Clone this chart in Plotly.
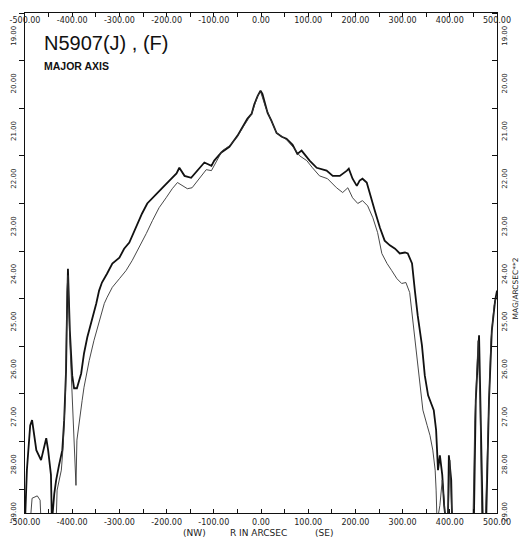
import plotly.graph_objects as go

# Radius along the major axis (arcsec) and surface brightness (mag/arcsec^2)
r_j = [-500, -496, -489, -485, -476, -470, -466, -455, -451, -445, -443, -438, -434, -428, -421, -417,
       -413, -411, -409, -405, -400, -396, -390, -381, -375, -368, -358, -349, -343, -337, -326, -315,
       -300, -290, -279, -264, -252, -241, -230, -220, -209, -194, -179, -173, -162, -148, -135, -120,
       -105, -99, -84, -67, -50, -35, -29, -20, -14, -7, -1, 3, 10, 14, 22, 33, 44, 54, 67, 77, 86, 92,
       103, 118, 124, 139, 152, 167, 182, 186, 194, 203, 209, 215, 224, 230, 241, 252, 262, 273, 284,
       294, 305, 311, 320, 326, 332, 341, 347, 354, 360, 366, 371, 373, 375, 379, 384, 388, 392, 396,
       398, 403, 405, 451, 455, 462, 466, 470, 477, 483, 489, 496, 500]
mag_j = [29.2, 28.1, 27.16, 27.05, 27.68, 27.83, 27.89, 27.43, 27.68, 28.2, 29.2, 28.6, 28.31, 28.0,
         27.68, 27.05, 26.0, 24.75, 23.87, 25.17, 26.11, 26.38, 26.38, 26.07, 25.65, 25.31, 24.96, 24.6,
         24.33, 24.16, 23.97, 23.76, 23.64, 23.45, 23.32, 22.96, 22.71, 22.5, 22.38, 22.27, 22.17, 22.02,
         21.87, 21.75, 21.92, 21.96, 21.81, 21.64, 21.71, 21.6, 21.43, 21.31, 21.08, 20.83, 20.72, 20.62,
         20.41, 20.24, 20.13, 20.2, 20.49, 20.6, 20.76, 21.02, 21.1, 21.14, 21.27, 21.46, 21.39, 21.46,
         21.6, 21.75, 21.77, 21.81, 21.92, 21.92, 21.81, 21.77, 21.98, 22.13, 22.02, 21.98, 22.06, 22.29,
         22.65, 23.01, 23.28, 23.38, 23.45, 23.55, 23.53, 23.55, 23.76, 24.33, 24.85, 25.48, 26.11, 26.53,
         26.67, 26.84, 27.26, 27.79, 28.1, 27.79, 28.2, 28.84, 29.2, 29.2, 27.79, 28.31, 29.2, 29.2, 26.64,
         25.27, 27.05, 29.2, 29.2, 26.64, 25.17, 24.54, 24.33]

r_f = [-489, -485, -474, -468, -466, -434, -432, -428, -423, -419, -414, -411, -409, -405, -400, -396,
       -392, -390, -385, -379, -375, -364, -354, -343, -332, -326, -315, -300, -286, -273, -258, -243,
       -230, -216, -201, -188, -177, -167, -156, -146, -131, -116, -105, -94, -82, -67, -50, -35, -20,
       -7, -1, 10, 22, 33, 54, 71, 82, 97, 109, 124, 141, 160, 173, 184, 194, 205, 215, 226, 237, 247,
       256, 267, 277, 288, 298, 307, 315, 322, 330, 337, 343, 352, 358, 364, 369, 371, 373, 379, 384,
       388, 390, 396, 400, 405, 449, 453, 460, 464, 468, 475, 481, 487, 494, 500]
mag_f = [29.2, 28.69, 28.64, 28.73, 29.2, 29.2, 28.52, 28.31, 28.1, 27.58, 26.42, 24.33, 24.01, 25.38,
         26.64, 27.68, 28.42, 27.47, 27.05, 26.64, 26.36, 25.8, 25.38, 24.96, 24.6, 24.47, 24.26, 24.08,
         23.91, 23.7, 23.43, 23.13, 22.86, 22.59, 22.38, 22.19, 22.06, 22.13, 22.19, 22.17, 21.98, 21.79,
         21.81, 21.6, 21.39, 21.29, 21.1, 20.85, 20.62, 20.24, 20.15, 20.49, 20.78, 21.02, 21.16, 21.35,
         21.5, 21.6, 21.75, 21.92, 21.98, 22.17, 22.27, 22.17, 22.38, 22.5, 22.44, 22.55, 22.8, 23.11,
         23.55, 23.76, 23.91, 24.08, 24.18, 24.16, 24.37, 24.96, 25.65, 26.32, 26.84, 27.16, 27.37, 27.68,
         28.1, 28.52, 29.2, 28.84, 28.31, 28.73, 29.2, 29.2, 27.89, 29.2, 29.2, 27.05, 25.38, 26.64, 29.2,
         29.2, 27.05, 25.38, 24.64, 24.43]

x_ticks = [-500, -400, -300, -200, -100, 0, 100, 200, 300, 400, 500]
x_ticktext = ["-500.00", "-400.00", "-300.00", "-200.00", "-100.00", "0.00",
              "100.00", "200.00", "300.00", "400.00", "500.00"]
x_minor = [-450, -350, -250, -150, -50, 50, 150, 250, 350, 450]
y_ticks = [19, 20, 21, 22, 23, 24, 25, 26, 27, 28, 29]
y_ticktext = ["19.00", "20.00", "21.00", "22.00", "23.00", "24.00", "25.00",
              "26.00", "27.00", "28.00", "29.00"]
y_minor = [18.5, 19.5, 20.5, 21.5, 22.5, 23.5, 24.5, 25.5, 26.5, 27.5, 28.5]

title_text = "N5907(J) , (F)"
subtitle_text = "<b>MAJOR AXIS</b>"
x_title_parts = ["(NW)", "R IN ARCSEC", "(SE)"]
y_title_text = "MAG/ARCSEC**2"

XR = [-500, 500]
YR = [29, 18.5]
xtickfont = dict(family="DejaVu Sans, sans-serif", size=8, color="#222")
ytickfont = dict(family="DejaVu Sans, sans-serif", size=7, color="#222")

fig = go.Figure()
fig.add_trace(go.Scatter(x=r_j, y=mag_j, mode="lines", name="J",
                         line=dict(color="#111111", width=1.8), xaxis="x", yaxis="y",
                         hoverinfo="skip"))
fig.add_trace(go.Scatter(x=r_f, y=mag_f, mode="lines", name="F",
                         line=dict(color="#333333", width=0.9), xaxis="x2", yaxis="y2",
                         hoverinfo="skip"))

axis_common = dict(showgrid=False, zeroline=False, showline=True, linecolor="#111",
                   linewidth=1, tickcolor="#111")

fig.update_layout(
    width=521, height=540,
    margin=dict(l=25, r=24, t=13, b=27, autoexpand=False),
    paper_bgcolor="white", plot_bgcolor="white",
    showlegend=False,
    xaxis=dict(range=XR, tickmode="array", tickvals=x_ticks, ticktext=x_ticktext,
               ticks="inside", ticklen=4, tickfont=xtickfont, side="bottom",
               ticklabelstandoff=1,
               minor=dict(tickvals=x_minor, ticks="inside", ticklen=4, tickcolor="#111"),
               **axis_common),
    xaxis2=dict(range=XR, overlaying="x", side="top", anchor="y", tickmode="array",
                tickvals=x_ticks, ticktext=x_ticktext, ticks="inside", ticklen=4,
                ticklabelstandoff=-14, tickfont=xtickfont,
                minor=dict(tickvals=x_minor, ticks="inside", ticklen=4, tickcolor="#111"),
                **axis_common),
    yaxis=dict(range=YR, tickmode="array", tickvals=y_ticks, ticktext=y_ticktext,
               ticks="", tickangle=-90, tickfont=ytickfont, side="left",
               ticklabelstandoff=5,
               minor=dict(tickvals=y_minor, ticks="outside", ticklen=5, tickcolor="#111"),
               **axis_common),
    yaxis2=dict(range=YR, overlaying="y", side="right", anchor="x", tickmode="array",
                tickvals=y_ticks, ticktext=y_ticktext, ticks="", tickangle=-90,
                tickfont=ytickfont, ticklabelstandoff=1,
                minor=dict(tickvals=y_minor, ticks="inside", ticklen=5, tickcolor="#111"),
                **axis_common),
)

fig.add_annotation(text=title_text, xref="paper", yref="paper", x=0.036, y=0.94,
                   xanchor="left", yanchor="middle", showarrow=False,
                   font=dict(family="Liberation Sans, Arial, sans-serif", size=20, color="#111"))
fig.add_annotation(text=subtitle_text, xref="paper", yref="paper", x=0.036, y=0.894,
                   xanchor="left", yanchor="middle", showarrow=False,
                   font=dict(family="Liberation Sans, Arial, sans-serif", size=10.5, color="#111"))
for txt, px in zip(x_title_parts, [0.36, 0.494, 0.633]):
    fig.add_annotation(text=txt, xref="paper", yref="paper", x=px, y=-0.04,
                       xanchor="center", yanchor="middle", showarrow=False,
                       font=dict(family="DejaVu Sans, sans-serif", size=9, color="#222"))
fig.add_annotation(text=y_title_text, xref="paper", yref="paper", x=1.039, y=0.45,
                   xanchor="center", yanchor="middle", showarrow=False, textangle=-90,
                   font=dict(family="DejaVu Sans, sans-serif", size=7.5, color="#222"))

fig.write_html("out.html", config={"displayModeBar": False},
               post_script="document.body.style.margin='0';")
